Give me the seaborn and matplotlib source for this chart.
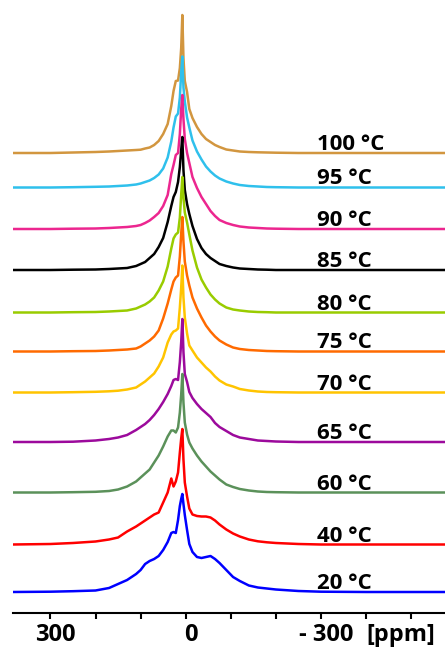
import pandas as pd
import matplotlib
matplotlib.use("Agg")
import matplotlib.pyplot as plt
import seaborn as sns

# chemical shift grid (ppm), shared by every spectrum
ppm = [384, 300, 250, 200, 170, 150, 130, 110, 100, 90,
       80, 70, 60, 50, 40, 32, 27, 22, 17, 13,
       10, 7.5, 5, 2, -3, -8, -15, -25, -35, -45,
       -55, -65, -75, -90, -105, -120, -140, -160, -180, -200,
       -250, -300, -400, -576]

# intensities (arbitrary units)
i_100 = [0, 0, 0.5, 1, 1.5, 2, 2.5, 3, 3.3, 4.5,
         5.5, 8, 12, 19, 29, 47, 62, 72, 72.5, 85,
         105, 138, 95, 72, 61, 44, 35, 26, 19, 14,
         11, 8, 6, 3.5, 2.5, 1.5, 1, 0.7, 0.5, 0.3,
         0, 0, 0, 0]
i_95 = [0, 0, 0.3, 0.7, 1, 1.5, 2, 3, 4, 5.5,
        7, 9.5, 13, 19, 30, 46, 60, 71, 74, 90,
        115, 131, 100, 86, 70, 60, 47, 36, 28, 21,
        16, 12, 9, 6, 4, 2.5, 1.5, 1, 0.5, 0.3,
        0, 0, 0, 0]
i_90 = [0, 0, 0.3, 0.5, 1, 1.5, 2, 3, 4, 6,
        8.5, 12, 16, 23, 34, 55, 64, 74, 76, 95,
        120, 134, 110, 90, 76, 66, 52, 41, 32, 25,
        18, 13, 9, 6, 4, 2.5, 1.5, 1, 0.5, 0.3,
        0, 0, 0, 0]
i_85 = [0, 0, 0.3, 0.5, 1, 1.5, 2, 4, 6, 8,
        12, 16, 23, 32, 48, 64, 73, 78, 88, 103,
        120, 133, 100, 80, 66, 56, 44, 31, 22, 16,
        12, 9, 6, 4, 2.5, 1.5, 1, 0.5, 0.3, 0,
        0, 0, 0, 0]
i_80 = [0, 0, 0.3, 0.5, 1, 1.5, 2, 4, 6, 8,
        11, 15, 22, 31, 46, 64, 74, 78, 80, 95,
        118, 135.5, 115, 100, 90, 78, 62, 45, 33, 25,
        18, 13, 9, 5, 3, 2, 1, 0.5, 0.3, 0,
        0, 0, 0, 0]
i_75 = [0, 0, 0.3, 0.5, 1, 1.5, 2, 3, 5, 8,
        11, 15, 21, 33, 48, 62, 70, 74, 76, 95,
        118, 134.5, 110, 90, 76, 66, 54, 43, 34, 26,
        20, 15, 11, 7, 4, 2.5, 1.5, 1, 0.5, 0.3,
        0, 0, 0, 0]
i_70 = [0, 0, 0.3, 0.7, 1.2, 1.8, 3, 5, 8, 11,
        15, 19, 26, 35, 50, 58, 61, 62, 64, 85,
        105, 127, 95, 75, 59, 47, 42, 35, 30, 25,
        21, 16, 12, 8, 6, 3.5, 2, 1, 0.5, 0.3,
        0, 0, 0, 0]
i_65 = [0, 0, 0.3, 1.5, 3, 4.5, 7, 12, 15, 18,
        22, 27, 33, 40, 48, 56, 62, 63, 62, 80,
        100, 123, 90, 68, 60, 50, 44, 38, 33, 29,
        25, 19, 15, 11, 7, 4.5, 3, 1.5, 1, 0.5,
        0, 0, 0, 0]
i_60 = [0, 0, 0.3, 0.7, 1.5, 3, 6, 11, 15, 19,
        23, 30, 37, 46, 56, 62, 62, 60, 65, 80,
        98, 118.5, 90, 70, 58, 50, 44, 37, 31, 26,
        21, 17, 13, 8, 5.5, 3.5, 2, 1, 0.5, 0.3,
        0, 0, 0, 0]
i_40 = [0, 0.5, 1.5, 3, 5, 7, 13, 18, 21, 24,
        27, 30, 32, 42, 52, 66, 58, 63, 72, 92,
        106, 115.5, 85, 62, 48, 36, 30, 28.5, 28, 28,
        27, 24, 20, 15, 11, 8, 5, 3.2, 2.2, 1.5,
        0.5, 0, 0, 0]
i_20 = [0, 0.3, 0.8, 1.5, 4, 8, 12, 18, 22, 28,
        31, 33, 36, 42, 50, 59, 60, 59, 72, 86,
        93, 98, 88, 77, 62, 48, 40, 35, 34, 35,
        36, 33, 29, 22, 15, 11, 6.5, 4.5, 3.5, 2.5,
        1, 0.3, 0, 0]

temps = ["100 °C", "95 °C", "90 °C", "85 °C", "80 °C", "75 °C",
         "70 °C", "65 °C", "60 °C", "40 °C", "20 °C"]
spectra = [i_100, i_95, i_90, i_85, i_80, i_75, i_70, i_65, i_60, i_40, i_20]

# vertical stacking offsets of each trace
offsets = [460, 425.5, 384, 343, 300.5, 261.5, 220.5, 171, 120.5, 68.5, 21]

colors = ["#D2963F", "#2FC0EC", "#EC268F", "#000000", "#99CC00", "#FF6A00",
          "#FFC400", "#9C0A9C", "#5B915A", "#FF0000", "#0000FF"]

rows = []
for t, spec, off in zip(temps, spectra, offsets):
    for x, y in zip(ppm, spec):
        rows.append({"ppm": x, "signal": y + off, "temp": t})
df = pd.DataFrame(rows)

sns.set_style("white", {"text.color": "black", "xtick.color": "black",
                        "axes.edgecolor": "black"})
plt.rcParams["font.family"] = ["Open Sans", "DejaVu Sans"]

fig = plt.figure(figsize=(4.45, 6.5), dpi=100)
ax = fig.add_axes([13 / 445, 37 / 650, 432 / 445, 613 / 650])

sns.lineplot(data=df, x="ppm", y="signal", hue="temp", hue_order=temps,
             palette=colors, estimator=None, sort=False, linewidth=1.8,
             legend=False, ax=ax)

for t, off in zip(temps, offsets):
    ax.text(-291, off + 3, t, fontsize=16, fontweight="bold",
            color="black", ha="left", va="baseline")

ax.set_xlim(383, -575)
ax.set_ylim(0, 613)
ax.set_yticks([])
ax.set_xlabel("")
ax.set_ylabel("")

ax.set_xticks(list(range(300, -501, -100)))
ax.set_xticklabels(["300", "", "", "0", "", "", "- 300", "", ""],
                   fontsize=17, fontweight="bold", color="black")
ax.tick_params(axis="x", direction="out", length=4.5, width=1.5, pad=2.5,
               bottom=True, colors="black")
shift = matplotlib.transforms.ScaledTranslation(5 / 100, 0, fig.dpi_scale_trans)
for lab in ax.get_xticklabels():
    lab.set_transform(lab.get_transform() + shift)

ax.annotate("[ppm]", xy=(-401, 0), xycoords=("data", "axes fraction"),
            xytext=(0, -7), textcoords="offset points", color="black",
            ha="left", va="top", fontsize=17, fontweight="bold")

sns.despine(ax=ax, left=True)
ax.spines["bottom"].set_linewidth(1.5)
ax.spines["bottom"].set_color("black")

fig.savefig("out.png", dpi=100)
